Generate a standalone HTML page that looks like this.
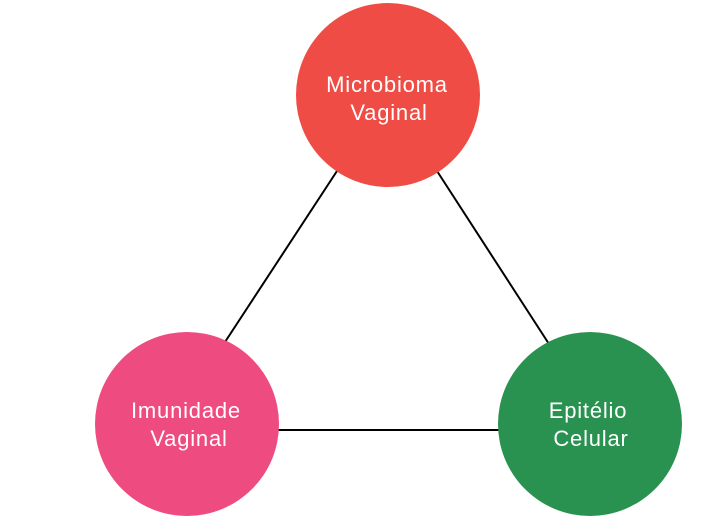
<!DOCTYPE html>
<html><head><meta charset="utf-8"><style>
html,body{margin:0;padding:0;background:#fff;width:724px;height:525px;overflow:hidden}
</style></head><body>
<svg width="724" height="525" viewBox="0 0 724 525" xmlns="http://www.w3.org/2000/svg">
<line x1="337" y1="171" x2="225" y2="342" stroke="#000" stroke-width="2"/>
<line x1="437" y1="171" x2="549" y2="344" stroke="#000" stroke-width="2"/>
<line x1="278" y1="430" x2="500" y2="430" stroke="#000" stroke-width="2"/>
<circle cx="388" cy="95" r="92" fill="#EF4C45"/>
<circle cx="187" cy="424" r="92" fill="#EE4B81"/>
<circle cx="590" cy="424" r="92" fill="#2A9250"/>
<g font-family="Liberation Sans, sans-serif" font-size="22" fill="#fff" text-anchor="middle" letter-spacing="0.8">
<text x="387" y="92">Microbioma</text>
<text x="389" y="120">Vaginal</text>
<text x="186" y="418">Imunidade</text>
<text x="189" y="446">Vaginal</text>
<text x="588" y="418">Epitélio</text>
<text x="591" y="446">Celular</text>
</g>
</svg>
</body></html>
